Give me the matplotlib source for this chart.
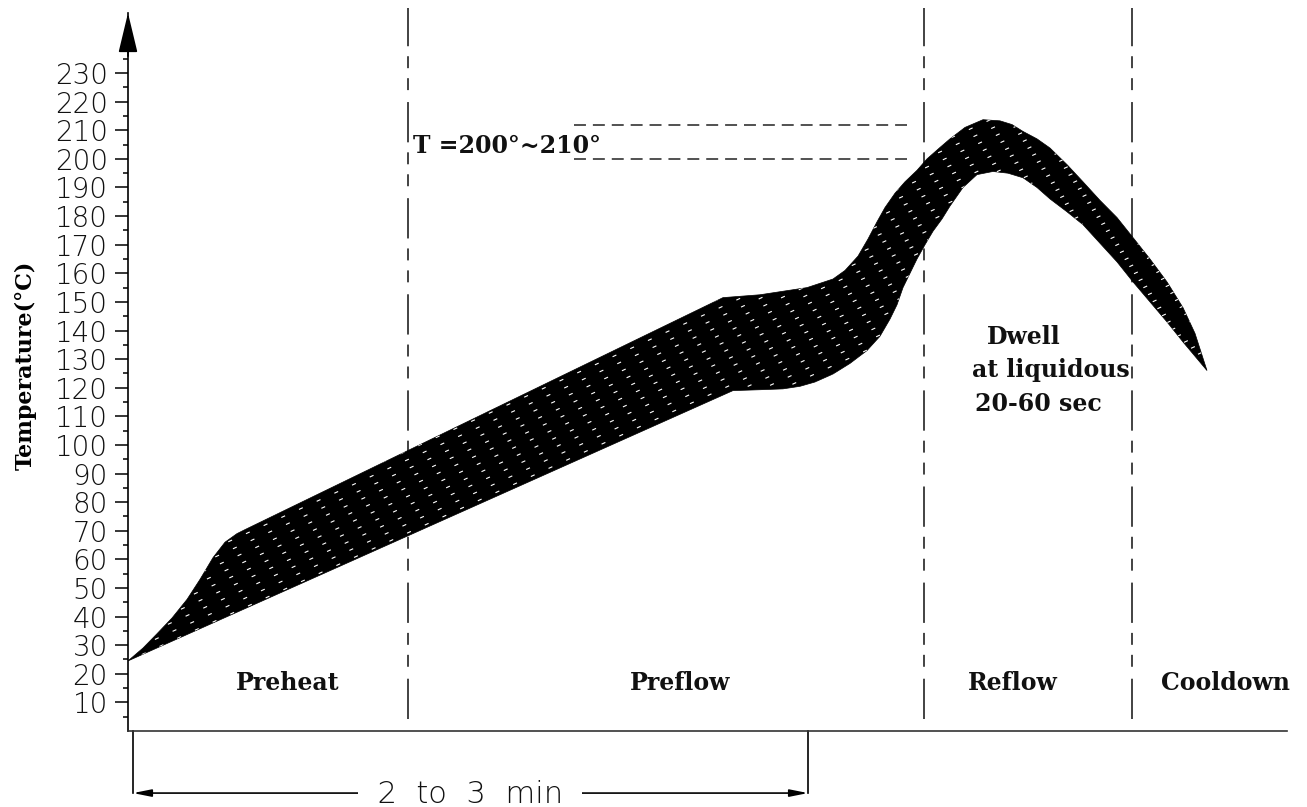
import numpy as np
import matplotlib
matplotlib.use('Agg')
import matplotlib.pyplot as plt

plt.rcParams['lines.scale_dashes'] = False

# upper / lower edge of the reflow profile band (time units, deg C)
t_upper = [0, 15, 29, 44, 59, 72, 85, 97, 109, 117, 595, 632, 679, 705, 717, 730, 740, 749,
           757, 767, 777, 789, 799, 812, 822, 837, 855, 872, 884, 895, 909, 922,
           939, 955, 972, 989, 1005, 1022, 1039, 1055, 1067, 1079]
temp_upper = [24.5, 29, 34, 39.5, 46, 53, 60.6, 66, 69, 70.4, 151.5, 152.5, 155, 158, 161, 166, 172, 178,
              183, 188, 192, 196, 200, 204, 207, 211, 213.7, 213.3, 212, 209.6, 207, 203.8,
              198, 192, 185.5, 179.5, 172.5, 165, 157, 148, 139, 126]
t_lower = [0, 605, 632, 655, 672, 687, 705, 722, 739, 752, 762, 769, 775, 782, 789,
           797, 805, 814, 822, 835, 849, 865, 880, 895, 909, 922, 939, 955, 972,
           989, 1005, 1022, 1039, 1055, 1079]
temp_lower = [24.5, 119, 119.3, 119.6, 120.5, 122, 124.8, 128.5, 133, 138, 144, 149, 155, 160, 165,
              170, 174.7, 179, 183.5, 190, 194.5, 195.6, 195, 193.4, 190, 186, 181.5, 177, 170.5,
              164, 157, 150, 143, 136, 126]

phase_bounds = [280, 796, 1004]
phase_names = ['Preheat', 'Preflow', 'Reflow', 'Cooldown']
liquidus = [200, 212]

fig = plt.figure(figsize=(13.07, 8.07), dpi=100)
ax = fig.add_axes([128/1307, 76/807, 1159/1307, 718/807])
ax.set_xlim(0, 1159)
ax.set_ylim(0, 251)

# band
poly_x = np.concatenate([t_upper, t_lower[::-1]])
poly_y = np.concatenate([temp_upper, temp_lower[::-1]])
band = ax.fill(poly_x, poly_y, facecolor='black', edgecolor='black', lw=0.5, zorder=3)[0]

# sparse white dash texture inside the band
xs = np.array([0, 1159])
for i, c in enumerate(np.arange(-160, 120, 3.2)):
    ln, = ax.plot(xs, 24.5 + 0.16 * xs + c, color='white', lw=0.8,
                  ls=((i * 3.7) % 14, (3, 11)), zorder=4)
    ln.set_clip_path(band)

# phase boundaries
dash = (0, (29, 8.6, 8.6, 7.2, 8.6, 7.2))
for b in phase_bounds:
    ax.axvline(b, ymin=0.017, ymax=1.007, color='#222222', lw=1.2, ls=dash, clip_on=False, zorder=2)

# liquidus band lines
for v in liquidus:
    ax.plot([446, 779], [v, v], color='#333333', lw=1.2, ls=(0, (8.6, 5)), zorder=2)

# axes style
for s in ['top', 'right']:
    ax.spines[s].set_visible(False)
ax.spines['left'].set_linewidth(1.2)
ax.spines['bottom'].set_linewidth(1.2)
ax.spines['bottom'].set_color('#333333')
ax.set_xticks([])
ax.set_yticks(range(10, 231, 10))
ax.set_yticks(range(5, 236, 10), minor=True)
ax.tick_params(axis='y', which='major', length=9.4, width=1.1, pad=5,
               labelsize=20, labelcolor='#111111')
ax.tick_params(axis='y', which='minor', length=3.6, width=1.1)
for lab in ax.get_yticklabels():
    lab.set_fontfamily('DejaVu Sans')
    lab.set_fontweight('light')

ax.set_ylabel('Temperature(°C)', fontsize=16, fontweight='bold', family='DejaVu Serif')
ax.yaxis.set_label_coords(-0.079, 0.51)

# arrow on y axis
ax.annotate('', xy=(0, 1.0), xytext=(0, 0.94), xycoords='axes fraction',
            arrowprops=dict(arrowstyle='-|>,head_length=2.5,head_width=0.6', mutation_scale=10,
                            color='black', lw=1.2, shrinkA=0, shrinkB=0))

# phase labels
serif = dict(family='DejaVu Serif', fontsize=17, fontweight='bold', color='#111111')
label_x = [160, 552, 885, 1097]
for name, lx in zip(phase_names, label_x):
    ax.text(lx, 16.8, name, ha='center', va='center', **serif)

ax.text(285, 204.5, 'T =200°~210°', ha='left', va='center', **serif)
ax.text(859, 137.7, 'Dwell', ha='left', va='center', **serif)
ax.text(844, 126.2, 'at liquidous', ha='left', va='center', **serif)
ax.text(847, 114.3, '20-60 sec', ha='left', va='center', **serif)

# 2 to 3 min bracket
yb = -21.7
ax.plot([5, 5], [0, yb], color='black', lw=1.2, clip_on=False)
ax.plot([680, 680], [0, yb], color='black', lw=1.2, clip_on=False)
ax.annotate('', xy=(5, yb), xytext=(680, yb), xycoords='data',
            arrowprops=dict(arrowstyle='<|-|>,head_length=0.9,head_width=0.18', mutation_scale=12,
                            color='black', lw=1.2, shrinkA=0, shrinkB=0),
            annotation_clip=False)
ax.text(342, yb - 0.5, '  2  to  3  min  ', ha='center', va='center', fontsize=22,
        family='DejaVu Sans', fontweight='light', color='#111111',
        bbox=dict(facecolor='white', edgecolor='none', pad=0), clip_on=False)

plt.savefig('out.png', dpi=100, facecolor='white')
